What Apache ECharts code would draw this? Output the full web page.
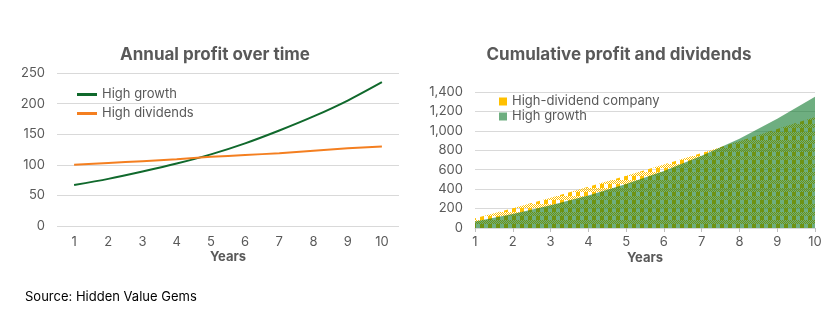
<!DOCTYPE html>
<html>
<head>
<meta charset="utf-8">
<script src="https://cdn.jsdelivr.net/npm/echarts@6/dist/echarts.min.js"></script>
<style>
html,body{margin:0;padding:0;background:#fff;}
#c{width:833px;height:330px;}
</style>
</head>
<body>
<div id="c"></div>
<script>
const years = ['1','2','3','4','5','6','7','8','9','10'];
const highGrowth = [67, 77, 89, 102, 117, 135, 156, 179, 205, 235];
const highDividends = [100, 103, 106, 109, 113, 116, 119, 123, 127, 130];
const cumDividend = [100, 203, 312, 424, 537, 653, 772, 893, 1018, 1142];
const cumGrowth = [67, 144, 233, 335, 454, 588, 743, 920, 1125, 1350];
const leftTicks = [0, 50, 100, 150, 200, 250];
const rightTicks = [0, 200, 400, 600, 800, 1000, 1200, 1400];

function makePattern() {
  const cv = document.createElement('canvas');
  cv.width = 8; cv.height = 8;
  const ctx = cv.getContext('2d');
  ctx.fillStyle = '#ffc000';
  for (let y = 0; y < 8; y++) {
    for (let x = 0; x < 8; x++) {
      let on;
      if (y < 4) on = x < 4;
      else on = ((x + y) % 2 === 0);
      if (on) ctx.fillRect(x, y, 1, 1);
    }
  }
  return {image: cv, repeat: 'repeat'};
}
const pattern = makePattern();

const FONT = 'Inter, "Liberation Sans", sans-serif';
const GREY = '#595959';
const chart = echarts.init(document.getElementById('c'), null, {renderer: 'canvas'});
chart.setOption({
  animation: false,
  textStyle: {fontFamily: FONT},
  title: [
    {text: 'Annual profit over time', left: 210, top: 41, textAlign: 'center',
     textStyle: {fontSize: 17, fontWeight: 'bold', color: GREY, fontFamily: FONT}},
    {text: 'Cumulative profit and dividends', left: 614, top: 41, textAlign: 'center',
     textStyle: {fontSize: 17, fontWeight: 'bold', color: GREY, fontFamily: FONT}},
    {text: 'Source: Hidden Value Gems', left: 20, top: 286,
     textStyle: {fontSize: 13, fontWeight: 'normal', color: '#000', fontFamily: FONT}}
  ],
  legend: [
    {orient: 'vertical', left: 72, top: 83, itemWidth: 20, itemHeight: 3, itemGap: 6,
     textStyle: {fontSize: 13, color: GREY, fontFamily: FONT, lineHeight: 13},
     data: [
       {name: 'High growth', icon: 'rect'},
       {name: 'High dividends', icon: 'rect'}
     ]},
    {orient: 'vertical', left: 494, top: 90, itemWidth: 8, itemHeight: 8, itemGap: 2,
     textStyle: {fontSize: 13, color: GREY, fontFamily: FONT, lineHeight: 13},
     data: [
       {name: 'High-dividend company', icon: 'rect', itemStyle: {color: '#ffc000'}},
       {name: 'High growth ', icon: 'rect', itemStyle: {color: 'rgba(0,112,32,0.57)'}}
     ]}
  ],
  grid: [
    {left: 57, top: 73, width: 342, height: 153},
    {left: 475, top: 92, width: 340, height: 136}
  ],
  xAxis: [
    {type: 'category', gridIndex: 0, data: years, boundaryGap: true,
     axisLine: {show: false}, axisTick: {show: false},
     axisLabel: {fontSize: 13, color: GREY, margin: 10},
     name: 'Years', nameLocation: 'middle', nameGap: 25,
     nameTextStyle: {fontSize: 13, fontWeight: 'bold', color: GREY}},
    {type: 'category', gridIndex: 1, data: years, boundaryGap: false,
     axisLine: {show: true, lineStyle: {color: '#d9d9d9'}},
     axisTick: {show: true, length: 4, lineStyle: {color: '#bfbfbf'}},
     axisLabel: {fontSize: 13, color: GREY, margin: 8},
     name: 'Years', nameLocation: 'middle', nameGap: 24,
     nameTextStyle: {fontSize: 13, fontWeight: 'bold', color: GREY}}
  ],
  yAxis: [
    {type: 'value', gridIndex: 0, min: leftTicks[0], max: leftTicks[leftTicks.length-1], interval: 50,
     axisLine: {show: false}, axisTick: {show: false},
     axisLabel: {fontSize: 13, color: GREY, margin: 12},
     splitLine: {lineStyle: {color: '#d9d9d9'}}},
    {type: 'value', gridIndex: 1, min: rightTicks[0], max: rightTicks[rightTicks.length-1], interval: 200,
     axisLine: {show: false}, axisTick: {show: false},
     axisLabel: {fontSize: 13, color: GREY, margin: 12,
       formatter: v => v.toLocaleString('en-US')},
     splitLine: {lineStyle: {color: '#d9d9d9'}}}
  ],
  series: [
    {name: 'High growth', type: 'line', xAxisIndex: 0, yAxisIndex: 0, data: highGrowth,
     smooth: 0.3, symbol: 'none', lineStyle: {color: '#10692c', width: 2}, itemStyle: {color: '#10692c'}},
    {name: 'High dividends', type: 'line', xAxisIndex: 0, yAxisIndex: 0, data: highDividends,
     smooth: 0.3, symbol: 'none', lineStyle: {color: '#f47f20', width: 2}, itemStyle: {color: '#f47f20'}},
    {name: 'High-dividend company', type: 'line', xAxisIndex: 1, yAxisIndex: 1, data: cumDividend,
     symbol: 'none', lineStyle: {width: 0}, itemStyle: {color: '#ffc000'},
     areaStyle: {color: pattern, opacity: 1}},
    {name: 'High growth ', type: 'line', xAxisIndex: 1, yAxisIndex: 1, data: cumGrowth,
     symbol: 'none', lineStyle: {width: 0}, itemStyle: {color: 'rgba(0,112,32,0.57)'},
     areaStyle: {color: 'rgba(0,112,32,0.57)', opacity: 1}}
  ]
});
</script>
</body>
</html>
